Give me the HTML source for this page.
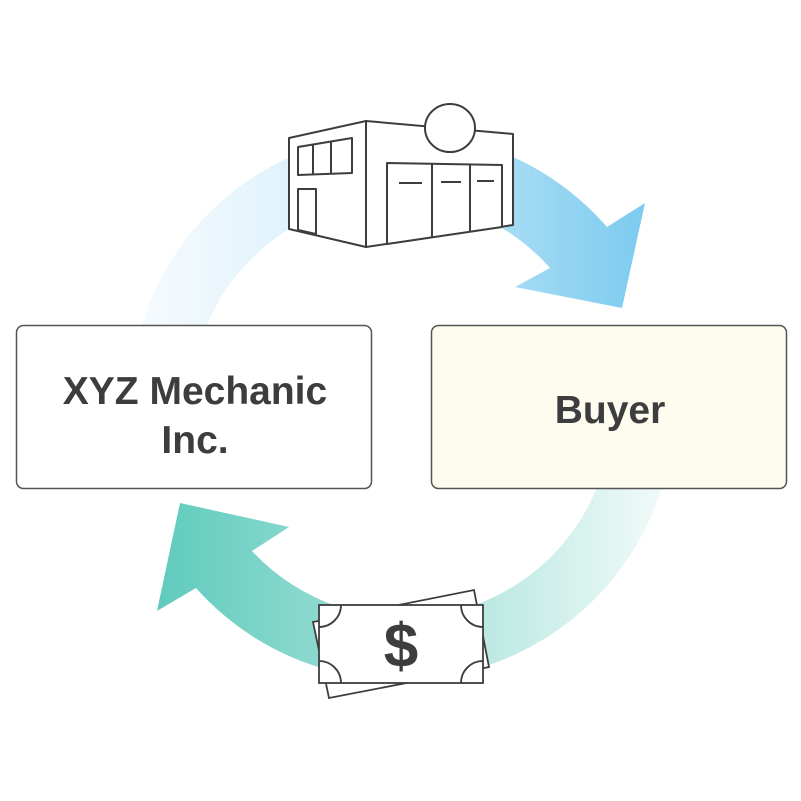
<!DOCTYPE html>
<html><head><meta charset="utf-8"><style>
html,body{margin:0;padding:0;background:#fff;}
svg{display:block;}
</style></head><body>
<svg width="801" height="801" viewBox="0 0 801 801" xmlns="http://www.w3.org/2000/svg">
<defs>
<linearGradient id="gt" x1="140" y1="0" x2="645" y2="0" gradientUnits="userSpaceOnUse">
<stop offset="0" stop-color="#f6fbfe"/><stop offset="0.4" stop-color="#d9effa"/><stop offset="1" stop-color="#7ccbef"/>
</linearGradient>
<linearGradient id="gb" x1="157" y1="0" x2="670" y2="0" gradientUnits="userSpaceOnUse">
<stop offset="0" stop-color="#5fcbbd"/><stop offset="0.45" stop-color="#9fdfd5"/><stop offset="1" stop-color="#f3fbfa"/>
</linearGradient>
</defs>
<path d="M140,330 A272,272 0 0 1 607,227 L645,203 L622,308 L515,287 L550,268 A205,205 0 0 0 205,330 Z" fill="url(#gt)"/>
<path d="M668,465 A274,274 0 0 1 196,588 L157,611 L180,503 L289,527 L252,551 A208,208 0 0 0 606,460 Z" fill="url(#gb)"/>
<rect x="16.5" y="325.5" width="355" height="163" rx="7" fill="#fff" stroke="#555" stroke-width="1.5"/>
<rect x="431.5" y="325.5" width="355" height="163" rx="7" fill="#fdfcee" stroke="#555" stroke-width="1.5"/>
<g font-family="Liberation Sans, sans-serif" font-weight="bold" font-size="39" fill="#3d3d3f" text-anchor="middle">
<text x="195" y="404">XYZ Mechanic</text>
<text x="195" y="453">Inc.</text>
<text x="610" y="423">Buyer</text>
</g>
<g fill="#fff" stroke="#3d3d3f" stroke-width="2" stroke-linejoin="round">
<polygon points="289,138 366,121 366,247 289,229"/>
<polygon points="366,121 513,134 513,225 366,247"/>
<ellipse cx="450" cy="128" rx="25" ry="24"/>
<polygon points="298,147 352,138 352,173 298,175"/>
<line x1="313" y1="145" x2="313" y2="175"/><line x1="331" y1="142" x2="331" y2="174"/>
<polygon points="298,189 316,189 316,234 298,230"/>
<polygon points="387,163 502,165 502,227 387,244"/>
<line x1="432" y1="164" x2="432" y2="237"/><line x1="470" y1="165" x2="470" y2="232"/>
<line x1="399" y1="183" x2="422" y2="183"/><line x1="441" y1="182" x2="461" y2="182"/><line x1="477" y1="181" x2="494" y2="181"/>
</g>
<g fill="#fff" stroke="#3d3d3f" stroke-width="1.8">
<polygon points="313,622 474,590 489,667 329,698"/>
<rect x="319" y="605" width="164" height="78"/>
<path d="M319,627 A22,22 0 0 0 341,605 M461,605 A22,22 0 0 0 483,627 M483,661 A22,22 0 0 0 461,683 M341,683 A22,22 0 0 0 319,661" fill="none"/>
</g>
<text x="401" y="667" font-family="Liberation Sans, sans-serif" font-weight="bold" font-size="62" fill="#3d3d3f" text-anchor="middle">$</text>
</svg>
</body></html>
